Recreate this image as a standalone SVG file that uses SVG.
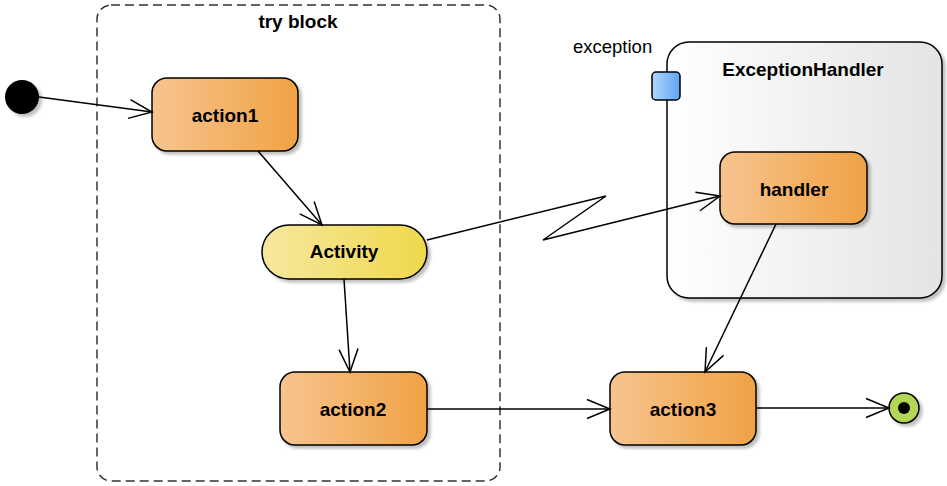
<svg xmlns="http://www.w3.org/2000/svg" width="947" height="486" viewBox="0 0 947 486">
<defs>
<linearGradient id="gOrange" x1="0" y1="0" x2="1" y2="0"><stop offset="0" stop-color="#F7C48F"/><stop offset="1" stop-color="#F0A244"/></linearGradient>
<linearGradient id="gYellow" x1="0" y1="0" x2="1" y2="0"><stop offset="0" stop-color="#F6E8A0"/><stop offset="1" stop-color="#F0D84A"/></linearGradient>
<linearGradient id="gGray" x1="0" y1="0" x2="1" y2="0"><stop offset="0" stop-color="#FFFFFF"/><stop offset="1" stop-color="#E4E4E4"/></linearGradient>
<linearGradient id="gBlue" x1="0" y1="0" x2="1" y2="0"><stop offset="0" stop-color="#B0D6FF"/><stop offset="1" stop-color="#5FA6F2"/></linearGradient>
<filter id="sh" x="-20%" y="-20%" width="150%" height="150%"><feGaussianBlur in="SourceAlpha" stdDeviation="1.5"/><feOffset dx="3" dy="3"/><feComponentTransfer><feFuncA type="linear" slope="0.25"/></feComponentTransfer><feMerge><feMergeNode/><feMergeNode in="SourceGraphic"/></feMerge></filter>
<marker id="arr" markerUnits="userSpaceOnUse" markerWidth="28" markerHeight="24" refX="24" refY="11" orient="auto"><path d="M1,1.5 L24,11 L1,20.5" fill="none" stroke="#000" stroke-width="1.5"/></marker>
</defs>
<style>
.node{stroke:#000;stroke-width:1.5}
.lbl{font-family:"Liberation Sans",Arial,sans-serif;font-weight:bold;font-size:19px;fill:#000;text-anchor:middle}
.plain{font-family:"Liberation Sans",Arial,sans-serif;font-size:18.5px;fill:#000}
.edge{fill:none;stroke:#000;stroke-width:1.5}
</style>
<g id="tryblock">
<rect x="97" y="5" width="403" height="476" rx="14" fill="none" stroke="#333" stroke-width="1.5" stroke-dasharray="9,5"/>
<text class="lbl" x="298" y="28">try block</text>
</g>
<g id="ExceptionHandler">
<rect class="node" x="667" y="42" width="275" height="256" rx="22" fill="url(#gGray)" filter="url(#sh)"/>
<text class="lbl" x="803" y="76">ExceptionHandler</text>
</g>
<g id="exceptionPort">
<rect class="node" x="652" y="72" width="28" height="28" rx="4" fill="url(#gBlue)"/>
<text class="plain" x="573" y="53">exception</text>
</g>
<g id="initial"><circle cx="22" cy="97" r="17" fill="#000" filter="url(#sh)"/></g>
<g id="action1">
<rect class="node" x="152" y="78" width="146" height="73" rx="15" fill="url(#gOrange)" filter="url(#sh)"/>
<text class="lbl" x="225" y="122">action1</text>
</g>
<g id="Activity">
<rect class="node" x="262" y="225" width="165" height="54" rx="27" fill="url(#gYellow)" filter="url(#sh)"/>
<text class="lbl" x="344" y="258">Activity</text>
</g>
<g id="action2">
<rect class="node" x="280" y="372" width="147" height="73" rx="15" fill="url(#gOrange)" filter="url(#sh)"/>
<text class="lbl" x="353" y="416">action2</text>
</g>
<g id="action3">
<rect class="node" x="610" y="372" width="146" height="73" rx="15" fill="url(#gOrange)" filter="url(#sh)"/>
<text class="lbl" x="683" y="416">action3</text>
</g>
<g id="handler">
<rect class="node" x="720" y="152" width="147" height="72" rx="15" fill="url(#gOrange)" filter="url(#sh)"/>
<text class="lbl" x="794" y="196">handler</text>
</g>
<g id="final">
<circle class="node" cx="904" cy="408" r="15" fill="#B2D657" filter="url(#sh)"/>
<circle cx="904" cy="408" r="6" fill="#000"/>
</g>
<g id="connectors">
<path class="edge" d="M39,97 L152,112" marker-end="url(#arr)"/>
<path class="edge" d="M258,151 L322,225" marker-end="url(#arr)"/>
<path class="edge" d="M344,279 L350,372" marker-end="url(#arr)"/>
<path class="edge" d="M427,240 L606,196 L543,240 L720,196" marker-end="url(#arr)"/>
<path class="edge" d="M776,224 L705,372" marker-end="url(#arr)"/>
<path class="edge" d="M427,409 L610,409" marker-end="url(#arr)"/>
<path class="edge" d="M756,408 L889,408" marker-end="url(#arr)"/>
</g>
</svg>
